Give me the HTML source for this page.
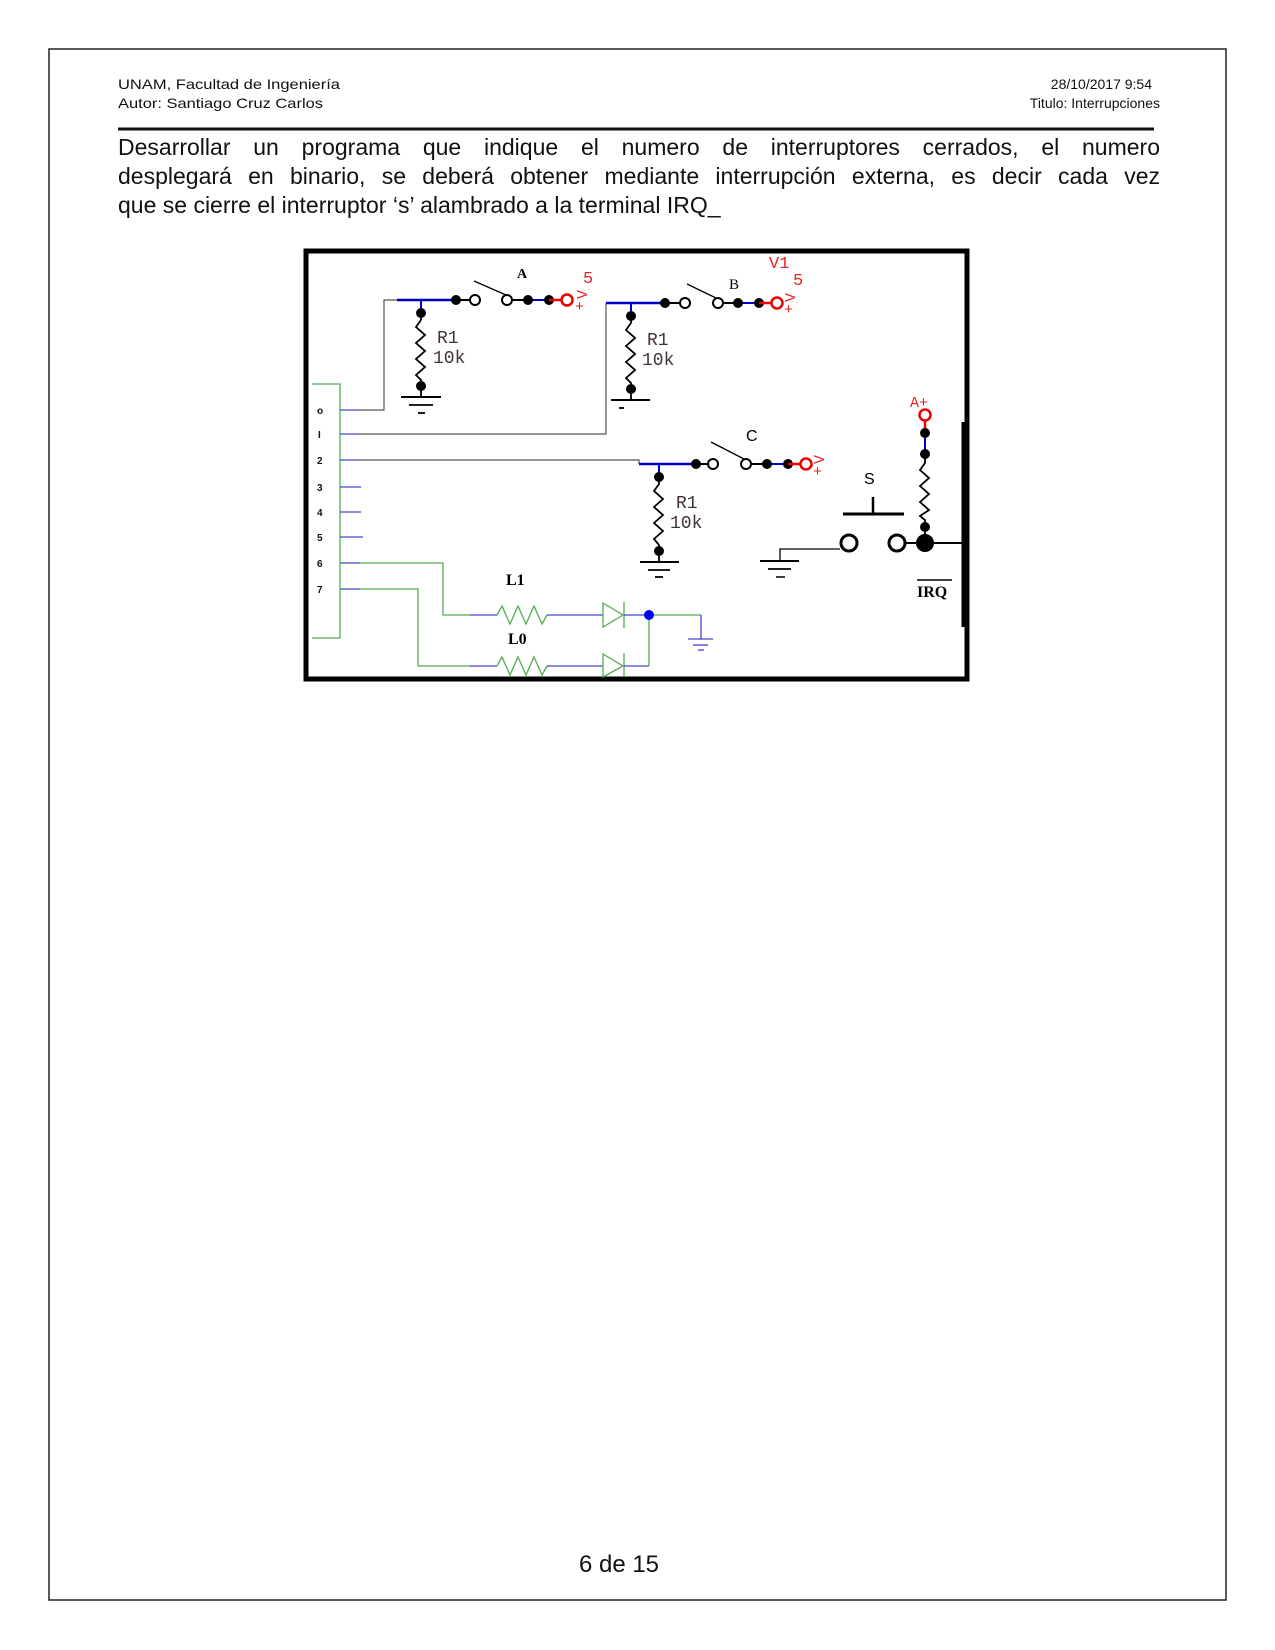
<!DOCTYPE html>
<html><head><meta charset="utf-8"><style>
html,body{margin:0;padding:0;background:#fff;}
body{width:1275px;height:1650px;position:relative;overflow:hidden;}
.para{position:absolute;left:118px;top:133px;width:1042px;font-family:"Liberation Sans",sans-serif;font-size:23px;line-height:29px;color:#111;white-space:nowrap;}
.j{text-align:justify;text-align-last:justify;}
</style></head><body>
<svg width="1275" height="1650" viewBox="0 0 1275 1650" xmlns="http://www.w3.org/2000/svg" style="position:absolute;left:0;top:0">
<rect x="49" y="49" width="1177" height="1551" fill="none" stroke="#222" stroke-width="1.5"/>
<g font-family="Liberation Sans, sans-serif" font-size="14" fill="#111">
<text x="118" y="89" textLength="222" lengthAdjust="spacingAndGlyphs">UNAM, Facultad de Ingeniería</text>
<text x="118" y="108" textLength="205" lengthAdjust="spacingAndGlyphs">Autor: Santiago Cruz Carlos</text>
<text x="1152" y="89" text-anchor="end">28/10/2017 9:54</text>
<text x="1160" y="108" text-anchor="end">Titulo: Interrupciones</text>
</g>
<line x1="118" y1="129" x2="1154" y2="129" stroke="#111" stroke-width="3"/>
<text x="619" y="1572" text-anchor="middle" font-family="Liberation Sans, sans-serif" font-size="24" fill="#111">6 de 15</text>

<rect x="306" y="251" width="661" height="428" fill="#fff" stroke="#000" stroke-width="5"/>
<line x1="963" y1="422" x2="963" y2="627" stroke="#000" stroke-width="3"/>

<polyline points="312,384 340,384 340,638 312,638" fill="none" stroke="#5a5" stroke-width="1.3"/>
<g font-family="Liberation Sans, sans-serif" font-size="10" font-weight="bold" fill="#111">
<text x="317" y="414">o</text><text x="318" y="438">I</text><text x="317" y="464">2</text>
<text x="317" y="491">3</text><text x="317" y="516">4</text><text x="317" y="541">5</text>
<text x="317" y="567">6</text><text x="317" y="593">7</text>
</g>
<g stroke="#44c" stroke-width="1.3">
<line x1="340" y1="410" x2="360" y2="410"/><line x1="340" y1="434" x2="360" y2="434"/>
<line x1="340" y1="460" x2="360" y2="460"/><line x1="340" y1="487" x2="361" y2="487"/>
<line x1="340" y1="512" x2="361" y2="512"/><line x1="340" y1="537" x2="363" y2="537"/>
<line x1="340" y1="563" x2="360" y2="563"/><line x1="340" y1="589" x2="360" y2="589"/>
</g>
<g fill="none" stroke="#555" stroke-width="1.2">
<polyline points="360,410 384,410 384,300 397,300"/>
<polyline points="360,434 606,434 606,303"/>
<polyline points="360,460 639,460 639,464"/>
</g>

<g>
<line x1="397" y1="300" x2="456" y2="300" stroke="#00c" stroke-width="2.5"/>
<line x1="421" y1="300" x2="421" y2="313" stroke="#00c" stroke-width="2"/>
<circle cx="456" cy="300" r="5" fill="#000"/>
<line x1="456" y1="300" x2="470" y2="300" stroke="#000" stroke-width="2"/>
<circle cx="475" cy="300" r="5" fill="#fff" stroke="#000" stroke-width="2"/>
<line x1="474" y1="281" x2="506" y2="295" stroke="#000" stroke-width="1.3"/>
<circle cx="507" cy="300" r="5" fill="#fff" stroke="#000" stroke-width="2"/>
<line x1="512" y1="300" x2="549" y2="300" stroke="#000" stroke-width="2"/>
<line x1="530" y1="300" x2="549" y2="300" stroke="#00c" stroke-width="2"/>
<circle cx="528" cy="300" r="5" fill="#000"/>
<circle cx="549" cy="300" r="5" fill="#000"/>
<line x1="549" y1="300" x2="562" y2="300" stroke="#e00" stroke-width="2.5"/>
<circle cx="567" cy="300" r="5.5" fill="#fff" stroke="#e00" stroke-width="2.5"/>
<text x="517" y="278" font-family="Liberation Serif, serif" font-size="14" font-weight="bold">A</text>
<text x="583" y="283" font-family="Liberation Mono, monospace" font-size="17" fill="#e22">5</text>
<text x="575" y="297" font-family="Liberation Mono, monospace" font-size="15" fill="#e22" transform="rotate(-90 582 292)">V</text>
<text x="575" y="311" font-family="Liberation Mono, monospace" font-size="15" fill="#e22">+</text>
</g>
<g stroke="#000" stroke-width="1.8" fill="none">
<line x1="421" y1="313" x2="421" y2="320"/>
<polyline points="421,320 416,327 425,335 416,343 425,351 416,359 425,367 416,375 421,380 421,386"/>
<line x1="421" y1="386" x2="421" y2="397"/>
<line x1="401" y1="397" x2="441" y2="397" stroke-width="2"/>
<line x1="409" y1="405" x2="433" y2="405"/>
<line x1="418" y1="413" x2="425" y2="413"/>
</g>
<circle cx="421" cy="313" r="5" fill="#000"/><circle cx="421" cy="386" r="5" fill="#000"/>
<text x="437" y="343" font-family="Liberation Mono, monospace" font-size="18" fill="#433">R1</text>
<text x="433" y="363" font-family="Liberation Mono, monospace" font-size="18" fill="#433">10k</text>

<line x1="606" y1="303" x2="665" y2="303" stroke="#00c" stroke-width="2.5"/>
<line x1="631" y1="303" x2="631" y2="316" stroke="#00c" stroke-width="2"/>
<circle cx="665" cy="303" r="5" fill="#000"/>
<line x1="665" y1="303" x2="680" y2="303" stroke="#000" stroke-width="2"/>
<circle cx="685" cy="303" r="5" fill="#fff" stroke="#000" stroke-width="2"/>
<line x1="687" y1="284" x2="716" y2="298" stroke="#000" stroke-width="1.3"/>
<circle cx="718" cy="303" r="5" fill="#fff" stroke="#000" stroke-width="2"/>
<line x1="723" y1="303" x2="738" y2="303" stroke="#000" stroke-width="2"/>
<line x1="738" y1="303" x2="759" y2="303" stroke="#00c" stroke-width="2"/>
<circle cx="738" cy="303" r="5" fill="#000"/><circle cx="759" cy="303" r="5" fill="#000"/>
<line x1="759" y1="303" x2="772" y2="303" stroke="#e00" stroke-width="2.5"/>
<circle cx="777" cy="303" r="5.5" fill="#fff" stroke="#e00" stroke-width="2.5"/>
<text x="729" y="289" font-family="Liberation Serif, serif" font-size="15">B</text>
<text x="769" y="268" font-family="Liberation Mono, monospace" font-size="17" fill="#e22">V1</text>
<text x="793" y="285" font-family="Liberation Mono, monospace" font-size="17" fill="#e22">5</text>
<text x="783" y="300" font-family="Liberation Mono, monospace" font-size="15" fill="#e22" transform="rotate(-90 790 295)">V</text>
<text x="784" y="314" font-family="Liberation Mono, monospace" font-size="15" fill="#e22">+</text>
<g stroke="#000" stroke-width="1.8" fill="none">
<polyline points="631,316 631,323 626,330 635,338 626,346 635,354 626,362 635,370 626,378 631,383 631,389"/>
<line x1="631" y1="389" x2="631" y2="400"/>
<line x1="611" y1="400" x2="650" y2="400" stroke-width="2"/>
<line x1="619" y1="408" x2="624" y2="408"/>
</g>
<circle cx="631" cy="316" r="5" fill="#000"/><circle cx="631" cy="389" r="5" fill="#000"/>
<text x="647" y="345" font-family="Liberation Mono, monospace" font-size="18" fill="#433">R1</text>
<text x="642" y="365" font-family="Liberation Mono, monospace" font-size="18" fill="#433">10k</text>

<line x1="639" y1="464" x2="696" y2="464" stroke="#00c" stroke-width="2.5"/>
<line x1="659" y1="464" x2="659" y2="477" stroke="#00c" stroke-width="2"/>
<circle cx="696" cy="464" r="5" fill="#000"/>
<line x1="696" y1="464" x2="708" y2="464" stroke="#000" stroke-width="2"/>
<circle cx="713" cy="464" r="5" fill="#fff" stroke="#000" stroke-width="2"/>
<line x1="711" y1="442" x2="744" y2="459" stroke="#000" stroke-width="1.3"/>
<circle cx="746" cy="464" r="5" fill="#fff" stroke="#000" stroke-width="2"/>
<line x1="751" y1="464" x2="767" y2="464" stroke="#000" stroke-width="2"/>
<line x1="767" y1="464" x2="788" y2="464" stroke="#00c" stroke-width="2"/>
<circle cx="767" cy="464" r="5" fill="#000"/><circle cx="788" cy="464" r="5" fill="#000"/>
<line x1="788" y1="464" x2="801" y2="464" stroke="#e00" stroke-width="2.5"/>
<circle cx="806" cy="464" r="5.5" fill="#fff" stroke="#e00" stroke-width="2.5"/>
<text x="746" y="441" font-family="Liberation Sans, sans-serif" font-size="16">C</text>
<text x="812" y="462" font-family="Liberation Mono, monospace" font-size="15" fill="#e22" transform="rotate(-90 819 457)">V</text>
<text x="813" y="476" font-family="Liberation Mono, monospace" font-size="15" fill="#e22">+</text>
<g stroke="#000" stroke-width="1.8" fill="none">
<polyline points="659,477 659,484 654,491 663,499 654,507 663,515 654,523 663,531 654,539 659,545 659,551"/>
<line x1="659" y1="551" x2="659" y2="562"/>
<line x1="640" y1="562" x2="679" y2="562" stroke-width="2"/>
<line x1="648" y1="570" x2="670" y2="570"/>
<line x1="655" y1="577" x2="663" y2="577"/>
</g>
<circle cx="659" cy="477" r="5" fill="#000"/><circle cx="659" cy="551" r="5" fill="#000"/>
<text x="676" y="508" font-family="Liberation Mono, monospace" font-size="18" fill="#433">R1</text>
<text x="670" y="528" font-family="Liberation Mono, monospace" font-size="18" fill="#433">10k</text>

<text x="864" y="484" font-family="Liberation Sans, sans-serif" font-size="16">S</text>
<line x1="843" y1="514" x2="904" y2="514" stroke="#000" stroke-width="3"/>
<line x1="873" y1="497" x2="873" y2="514" stroke="#000" stroke-width="2.5"/>
<polyline points="840,549 780,549 780,561" fill="none" stroke="#000" stroke-width="1.3"/>
<line x1="760" y1="561" x2="799" y2="561" stroke="#000" stroke-width="2"/>
<line x1="768" y1="569" x2="791" y2="569" stroke="#000" stroke-width="1.8"/>
<line x1="776" y1="577" x2="785" y2="577" stroke="#000" stroke-width="1.5"/>
<circle cx="849" cy="543" r="8" fill="#fff" stroke="#000" stroke-width="3"/>
<circle cx="897" cy="543" r="8" fill="#fff" stroke="#000" stroke-width="3"/>
<line x1="905" y1="543" x2="963" y2="543" stroke="#000" stroke-width="2"/>
<line x1="925" y1="421" x2="925" y2="433" stroke="#e00" stroke-width="2.5"/>
<line x1="925" y1="433" x2="925" y2="454" stroke="#00c" stroke-width="2"/>
<polyline points="925,454 925,463 920,470 929,478 920,486 929,494 920,502 929,510 920,516 925,520 925,543" fill="none" stroke="#000" stroke-width="1.8"/>
<circle cx="925" cy="415" r="5.5" fill="#fff" stroke="#e00" stroke-width="2.5"/>
<circle cx="925" cy="433" r="5" fill="#000"/><circle cx="925" cy="454" r="5" fill="#000"/>
<circle cx="925" cy="527" r="5" fill="#000"/><circle cx="925" cy="543" r="9" fill="#000"/>
<text x="910" y="407" font-family="Liberation Mono, monospace" font-size="15" fill="#e22">A+</text>
<line x1="917" y1="580" x2="952" y2="580" stroke="#000" stroke-width="1.5"/>
<text x="917" y="597" font-family="Liberation Serif, serif" font-size="16" font-weight="bold">IRQ</text>

<g fill="none" stroke-width="1.3">
<polyline points="360,563 443,563 443,615 470,615" stroke="#5a5"/>
<line x1="470" y1="615" x2="497" y2="615" stroke="#44c"/>
<polyline points="497,615 502,606 510,624 518,606 526,624 534,606 542,624 547,615" stroke="#5a5"/>
<line x1="547" y1="615" x2="603" y2="615" stroke="#44c"/>
<polygon points="603,603 623,615 603,627" stroke="#5a5"/>
<line x1="624" y1="602" x2="624" y2="628" stroke="#5a5"/>
<line x1="624" y1="615" x2="649" y2="615" stroke="#44c"/>
<polyline points="649,615 701,615" stroke="#5a5"/>
<line x1="701" y1="615" x2="701" y2="639" stroke="#44c"/>
<line x1="688" y1="639" x2="713" y2="639" stroke="#44c"/>
<line x1="693" y1="645" x2="708" y2="645" stroke="#44c"/>
<line x1="698" y1="650" x2="704" y2="650" stroke="#44c"/>
<polyline points="360,589 418,589 418,666 470,666" stroke="#5a5"/>
<line x1="470" y1="666" x2="497" y2="666" stroke="#44c"/>
<polyline points="497,666 502,657 510,675 518,657 526,675 534,657 542,675 547,666" stroke="#5a5"/>
<line x1="547" y1="666" x2="603" y2="666" stroke="#44c"/>
<polygon points="603,654 623,666 603,677" stroke="#5a5"/>
<line x1="624" y1="653" x2="624" y2="677" stroke="#5a5"/>
<line x1="624" y1="666" x2="649" y2="666" stroke="#44c"/>
<line x1="649" y1="666" x2="649" y2="615" stroke="#5a5"/>
</g>
<circle cx="649" cy="615" r="5" fill="#00f"/>
<text x="506" y="585" font-family="Liberation Serif, serif" font-size="16" font-weight="bold">L1</text>
<text x="508" y="644" font-family="Liberation Serif, serif" font-size="16" font-weight="bold">L0</text>
</svg>
<div class="para">
<div class="j">Desarrollar un programa que indique el numero de interruptores cerrados, el numero</div>
<div class="j">desplegará en binario, se deberá obtener mediante interrupción externa, es decir cada vez</div>
<div>que se cierre el interruptor ‘s’ alambrado a la terminal IRQ_</div>
</div>
</body></html>
